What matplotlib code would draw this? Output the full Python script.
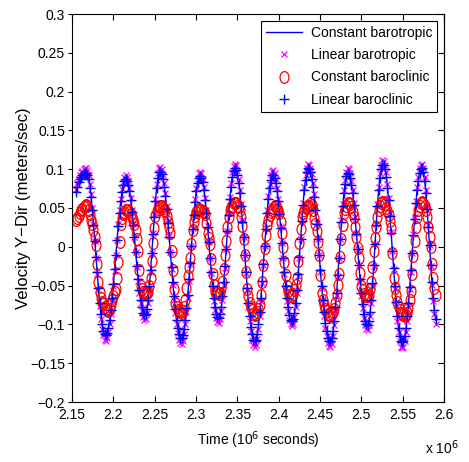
import matplotlib
matplotlib.use("Agg")
import matplotlib.pyplot as plt
import numpy as np
from matplotlib.path import Path

plt.rcParams['font.family'] = ['Liberation Sans', 'DejaVu Sans']

# time axis (units of 10^6 s), one sample every 1500 s
time_start = 2.155
time_step = 0.0015
n_samples = 291

# Constant barotropic (blue line)
const_bt = [0.072, 0.079, 0.085, 0.089, 0.092, 0.094, 0.096, 0.097, 0.097, 0.095,
            0.089, 0.078, 0.065, 0.048, 0.029, 0.008, -0.013, -0.034, -0.054, -0.073,
            -0.089, -0.102, -0.110, -0.115, -0.116, -0.113, -0.106, -0.096, -0.083, -0.067,
            -0.049, -0.030, -0.010, 0.009, 0.028, 0.045, 0.060, 0.072, 0.081, 0.087,
            0.089, 0.087, 0.082, 0.073, 0.061, 0.046, 0.029, 0.012, -0.007, -0.025,
            -0.042, -0.057, -0.070, -0.080, -0.087, -0.090, -0.089, -0.082, -0.069, -0.052,
            -0.031, -0.008, 0.017, 0.040, 0.060, 0.078, 0.091, 0.098, 0.099, 0.096,
            0.089, 0.079, 0.066, 0.050, 0.032, 0.013, -0.007, -0.027, -0.047, -0.065,
            -0.082, -0.096, -0.107, -0.115, -0.119, -0.120, -0.116, -0.108, -0.096, -0.081,
            -0.063, -0.042, -0.021, 0.001, 0.023, 0.042, 0.059, 0.073, 0.084, 0.091,
            0.093, 0.091, 0.085, 0.074, 0.061, 0.045, 0.026, 0.006, -0.014, -0.033,
            -0.051, -0.067, -0.079, -0.088, -0.093, -0.094, -0.089, -0.080, -0.065, -0.047,
            -0.026, -0.003, 0.020, 0.042, 0.062, 0.079, 0.092, 0.100, 0.103, 0.101,
            0.094, 0.084, 0.070, 0.053, 0.033, 0.012, -0.011, -0.033, -0.054, -0.074,
            -0.091, -0.105, -0.115, -0.122, -0.124, -0.122, -0.114, -0.102, -0.086, -0.067,
            -0.045, -0.022, 0.001, 0.023, 0.045, 0.063, 0.078, 0.088, 0.094, 0.095,
            0.091, 0.084, 0.073, 0.060, 0.043, 0.024, 0.005, -0.014, -0.034, -0.051,
            -0.067, -0.080, -0.090, -0.096, -0.098, -0.095, -0.087, -0.074, -0.057, -0.036,
            -0.013, 0.010, 0.034, 0.055, 0.074, 0.088, 0.098, 0.103, 0.102, 0.098,
            0.090, 0.079, 0.065, 0.049, 0.030, 0.010, -0.011, -0.031, -0.051, -0.069,
            -0.086, -0.100, -0.111, -0.119, -0.123, -0.124, -0.120, -0.111, -0.097, -0.080,
            -0.060, -0.037, -0.014, 0.010, 0.033, 0.053, 0.070, 0.083, 0.093, 0.097,
            0.096, 0.091, 0.082, 0.070, 0.055, 0.037, 0.017, -0.003, -0.023, -0.043,
            -0.061, -0.076, -0.088, -0.097, -0.102, -0.103, -0.097, -0.086, -0.069, -0.048,
            -0.024, 0.003, 0.029, 0.053, 0.074, 0.091, 0.102, 0.108, 0.107, 0.102,
            0.092, 0.078, 0.061, 0.041, 0.018, -0.005, -0.028, -0.052, -0.072, -0.091,
            -0.106, -0.117, -0.124, -0.126, -0.124, -0.117, -0.106, -0.091, -0.073, -0.053,
            -0.031, -0.008, 0.015, 0.037, 0.057, 0.074, 0.087, 0.097, 0.102, 0.103,
            0.098, 0.087, 0.070, 0.050, 0.027, 0.002, -0.024, -0.047, -0.067, -0.084,
            -0.095]

# Linear barotropic (magenta x)
lin_bt = [0.075, 0.082, 0.088, 0.093, 0.096, 0.098, 0.100, 0.101, 0.101, 0.099,
          0.093, 0.081, 0.068, 0.050, 0.030, 0.008, -0.014, -0.035, -0.056, -0.076,
          -0.093, -0.106, -0.114, -0.120, -0.121, -0.118, -0.110, -0.100, -0.086, -0.070,
          -0.051, -0.031, -0.010, 0.009, 0.029, 0.047, 0.062, 0.075, 0.084, 0.090,
          0.093, 0.090, 0.085, 0.076, 0.063, 0.048, 0.030, 0.012, -0.007, -0.026,
          -0.044, -0.059, -0.073, -0.083, -0.090, -0.094, -0.093, -0.085, -0.072, -0.054,
          -0.032, -0.008, 0.018, 0.042, 0.062, 0.081, 0.095, 0.102, 0.103, 0.100,
          0.093, 0.082, 0.069, 0.052, 0.033, 0.014, -0.007, -0.028, -0.049, -0.068,
          -0.085, -0.100, -0.111, -0.120, -0.124, -0.125, -0.121, -0.112, -0.100, -0.084,
          -0.066, -0.044, -0.022, 0.001, 0.024, 0.044, 0.061, 0.076, 0.087, 0.095,
          0.097, 0.095, 0.088, 0.077, 0.063, 0.047, 0.027, 0.006, -0.015, -0.034,
          -0.053, -0.070, -0.082, -0.092, -0.097, -0.098, -0.093, -0.083, -0.068, -0.049,
          -0.027, -0.003, 0.021, 0.044, 0.064, 0.082, 0.096, 0.104, 0.107, 0.105,
          0.098, 0.087, 0.073, 0.055, 0.034, 0.012, -0.011, -0.034, -0.056, -0.077,
          -0.095, -0.109, -0.120, -0.127, -0.129, -0.127, -0.119, -0.106, -0.089, -0.070,
          -0.047, -0.023, 0.001, 0.024, 0.047, 0.066, 0.081, 0.092, 0.098, 0.099,
          0.095, 0.087, 0.076, 0.062, 0.045, 0.025, 0.005, -0.015, -0.035, -0.053,
          -0.070, -0.083, -0.094, -0.100, -0.102, -0.099, -0.090, -0.077, -0.059, -0.037,
          -0.014, 0.010, 0.035, 0.057, 0.077, 0.092, 0.102, 0.107, 0.106, 0.102,
          0.094, 0.082, 0.068, 0.051, 0.031, 0.010, -0.011, -0.032, -0.053, -0.072,
          -0.089, -0.104, -0.115, -0.124, -0.128, -0.129, -0.125, -0.115, -0.101, -0.083,
          -0.062, -0.038, -0.015, 0.010, 0.034, 0.055, 0.073, 0.086, 0.097, 0.101,
          0.100, 0.095, 0.085, 0.073, 0.057, 0.038, 0.018, -0.003, -0.024, -0.045,
          -0.063, -0.079, -0.092, -0.101, -0.106, -0.107, -0.101, -0.089, -0.072, -0.050,
          -0.025, 0.003, 0.030, 0.055, 0.077, 0.095, 0.106, 0.112, 0.111, 0.106,
          0.096, 0.081, 0.063, 0.043, 0.019, -0.005, -0.029, -0.054, -0.075, -0.095,
          -0.110, -0.122, -0.129, -0.131, -0.129, -0.122, -0.110, -0.095, -0.076, -0.055,
          -0.032, -0.008, 0.016, 0.038, 0.059, 0.077, 0.090, 0.101, 0.106, 0.107,
          0.102, 0.090, 0.073, 0.052, 0.028, 0.002, -0.025, -0.049, -0.070, -0.087,
          -0.099]

# Constant baroclinic (red circles)
const_bc = [0.034, 0.037, 0.040, 0.044, 0.047, 0.049, 0.051, 0.053, 0.054, 0.052,
            0.047, 0.042, 0.035, 0.029, 0.022, 0.013, 0.002, -0.022, -0.046, -0.058,
            -0.066, -0.071, -0.074, -0.077, -0.080, -0.082, -0.083, -0.080, -0.074, -0.068,
            -0.063, -0.058, -0.054, -0.040, -0.020, 0.006, 0.030, 0.037, 0.042, 0.045,
            0.047, 0.048, 0.047, 0.045, 0.042, 0.038, 0.034, 0.029, 0.022, 0.010,
            -0.005, -0.030, -0.051, -0.055, -0.058, -0.059, -0.060, -0.060, -0.058, -0.050,
            -0.040, -0.018, 0.005, 0.024, 0.040, 0.046, 0.049, 0.051, 0.052, 0.052,
            0.050, 0.048, 0.046, 0.040, 0.032, 0.025, 0.018, -0.005, -0.030, -0.055,
            -0.073, -0.078, -0.082, -0.083, -0.084, -0.085, -0.083, -0.077, -0.068, -0.053,
            -0.037, -0.026, -0.015, 0.004, 0.022, 0.032, 0.040, 0.045, 0.048, 0.049,
            0.048, 0.047, 0.046, 0.045, 0.042, 0.031, 0.018, 0.011, 0.003, -0.016,
            -0.035, -0.049, -0.058, -0.060, -0.060, -0.061, -0.059, -0.053, -0.045, -0.028,
            -0.010, 0.008, 0.025, 0.038, 0.047, 0.051, 0.053, 0.056, 0.057, 0.056,
            0.053, 0.051, 0.047, 0.038, 0.027, 0.010, -0.010, -0.033, -0.054, -0.064,
            -0.072, -0.077, -0.082, -0.086, -0.088, -0.087, -0.084, -0.080, -0.075, -0.062,
            -0.045, -0.023, -0.001, 0.015, 0.028, 0.035, 0.041, 0.045, 0.048, 0.050,
            0.052, 0.052, 0.049, 0.047, 0.044, 0.032, 0.018, 0.000, -0.019, -0.036,
            -0.050, -0.057, -0.062, -0.064, -0.064, -0.061, -0.056, -0.049, -0.040, -0.018,
            0.005, 0.023, 0.038, 0.044, 0.048, 0.050, 0.051, 0.052, 0.053, 0.055,
            0.054, 0.047, 0.037, 0.029, 0.020, 0.006, -0.010, -0.036, -0.060, -0.068,
            -0.075, -0.080, -0.083, -0.086, -0.088, -0.089, -0.087, -0.084, -0.080, -0.072,
            -0.062, -0.049, -0.035, -0.013, 0.010, 0.028, 0.043, 0.049, 0.053, 0.056,
            0.057, 0.055, 0.051, 0.045, 0.038, 0.026, 0.012, -0.001, -0.015, -0.034,
            -0.050, -0.056, -0.061, -0.063, -0.064, -0.064, -0.062, -0.055, -0.045, -0.026,
            -0.005, 0.011, 0.026, 0.038, 0.047, 0.052, 0.056, 0.058, 0.058, 0.055,
            0.050, 0.046, 0.041, 0.033, 0.024, -0.008, -0.040, -0.053, -0.062, -0.071,
            -0.078, -0.082, -0.085, -0.087, -0.088, -0.089, -0.088, -0.085, -0.079, -0.069,
            -0.057, -0.035, -0.012, 0.008, 0.026, 0.039, 0.048, 0.053, 0.057, 0.058,
            0.057, 0.053, 0.048, 0.038, 0.025, 0.013, 0.000, -0.022, -0.040, -0.053,
            -0.062]

# Linear baroclinic (blue +)
lin_bc = [0.071, 0.077, 0.083, 0.087, 0.090, 0.092, 0.094, 0.095, 0.095, 0.093,
          0.087, 0.076, 0.064, 0.047, 0.028, 0.008, -0.013, -0.033, -0.053, -0.072,
          -0.087, -0.100, -0.108, -0.113, -0.114, -0.111, -0.104, -0.094, -0.081, -0.066,
          -0.048, -0.029, -0.010, 0.009, 0.027, 0.044, 0.059, 0.071, 0.079, 0.085,
          0.087, 0.085, 0.080, 0.072, 0.060, 0.045, 0.028, 0.012, -0.007, -0.025,
          -0.041, -0.056, -0.069, -0.078, -0.085, -0.088, -0.087, -0.080, -0.068, -0.051,
          -0.030, -0.008, 0.017, 0.039, 0.059, 0.076, 0.089, 0.096, 0.097, 0.094,
          0.087, 0.077, 0.065, 0.049, 0.031, 0.013, -0.007, -0.026, -0.046, -0.064,
          -0.080, -0.094, -0.105, -0.113, -0.117, -0.118, -0.114, -0.106, -0.094, -0.079,
          -0.062, -0.041, -0.021, 0.001, 0.023, 0.041, 0.058, 0.072, 0.082, 0.089,
          0.091, 0.089, 0.083, 0.073, 0.060, 0.044, 0.025, 0.006, -0.014, -0.032,
          -0.050, -0.066, -0.077, -0.086, -0.091, -0.092, -0.087, -0.078, -0.064, -0.046,
          -0.025, -0.003, 0.020, 0.041, 0.061, 0.077, 0.090, 0.098, 0.101, 0.099,
          0.092, 0.082, 0.069, 0.052, 0.032, 0.012, -0.011, -0.032, -0.053, -0.073,
          -0.089, -0.103, -0.113, -0.120, -0.122, -0.120, -0.112, -0.100, -0.084, -0.066,
          -0.044, -0.022, 0.001, 0.023, 0.044, 0.062, 0.076, 0.086, 0.092, 0.093,
          0.089, 0.082, 0.072, 0.059, 0.042, 0.024, 0.005, -0.014, -0.033, -0.050,
          -0.066, -0.078, -0.088, -0.094, -0.096, -0.093, -0.085, -0.073, -0.056, -0.035,
          -0.013, 0.010, 0.033, 0.054, 0.073, 0.086, 0.096, 0.101, 0.100, 0.096,
          0.088, 0.077, 0.064, 0.048, 0.029, 0.010, -0.011, -0.030, -0.050, -0.068,
          -0.084, -0.098, -0.109, -0.117, -0.121, -0.122, -0.118, -0.109, -0.095, -0.078,
          -0.059, -0.036, -0.014, 0.010, 0.032, 0.052, 0.069, 0.081, 0.091, 0.095,
          0.094, 0.089, 0.080, 0.069, 0.054, 0.036, 0.017, -0.003, -0.023, -0.042,
          -0.060, -0.074, -0.086, -0.095, -0.100, -0.101, -0.095, -0.084, -0.068, -0.047,
          -0.024, 0.003, 0.028, 0.052, 0.073, 0.089, 0.100, 0.106, 0.105, 0.100,
          0.090, 0.076, 0.060, 0.040, 0.018, -0.005, -0.027, -0.051, -0.071, -0.089,
          -0.104, -0.115, -0.122, -0.123, -0.122, -0.115, -0.104, -0.089, -0.072, -0.052,
          -0.030, -0.008, 0.015, 0.036, 0.056, 0.073, 0.085, 0.095, 0.100, 0.101,
          0.096, 0.085, 0.069, 0.049, 0.026, 0.002, -0.024, -0.046, -0.066, -0.082,
          -0.093]

x_ticks = [2.15, 2.2, 2.25, 2.3, 2.35, 2.4, 2.45, 2.5, 2.55, 2.6]
x_ticklabels = ['2.15', '2.2', '2.25', '2.3', '2.35', '2.4', '2.45', '2.5', '2.55', '2.6']
y_ticks = [-0.2, -0.15, -0.1, -0.05, 0, 0.05, 0.1, 0.15, 0.2, 0.25, 0.3]
y_ticklabels = ['\u22120.2', '\u22120.15', '\u22120.1', '\u22120.05', '0', '0.05', '0.1',
                '0.15', '0.2', '0.25', '0.3']

t = time_start + time_step * np.arange(n_samples)

# slightly squashed circle, like the original export
circ = Path.unit_circle()
oval = Path(circ.vertices * [0.75, 1.0], circ.codes)

fig = plt.figure(figsize=(4.69, 4.62), dpi=100)
ax = fig.add_axes([72 / 469, 1 - 402 / 462, 372 / 469, 388 / 462])

ax.plot(t, const_bt, '-', color=(0, 0, 1), lw=1.0, label='Constant barotropic')
ax.plot(t, lin_bt, 'x', color=(1, 0, 1), ms=4.5, mew=0.9, ls='none', label='Linear barotropic')
ax.plot(t, const_bc, marker=oval, color=(1, 0, 0), mfc='none', ms=8.5, mew=0.9, ls='none',
        label='Constant baroclinic')
ax.plot(t, lin_bc, '+', color=(0, 0, 1), ms=7.5, mew=1.0, ls='none', label='Linear baroclinic')

ax.set_xlim(2.15, 2.6)
ax.set_ylim(-0.2, 0.3)
ax.set_xticks(x_ticks, x_ticklabels)
ax.set_yticks(y_ticks, y_ticklabels)
ax.tick_params(axis='x', direction='in', top=True, length=4, labelsize=10, pad=4)
ax.tick_params(axis='y', direction='out', length=3, labelsize=10, pad=2)
sec = ax.secondary_yaxis('right')
sec.set_yticks(y_ticks)
sec.tick_params(direction='in', length=4, labelright=False)
for s in list(ax.spines.values()) + list(sec.spines.values()):
    s.set_linewidth(0.8)

ax.set_xlabel('Time (10$^6$ seconds)', fontsize=10, labelpad=6)
ax.set_ylabel('Velocity Y\u2212Dir (meters/sec)', fontsize=12)
ax.yaxis.set_label_coords(-0.11, 0.5)
fig.text(425 / 469, 1 - 448 / 462, 'x 10$^6$', fontsize=10, va='center', ha='left')

leg = ax.legend(loc='upper right', fontsize=10, frameon=True, fancybox=False,
                edgecolor='black', framealpha=1, labelspacing=0.6, handlelength=2.6,
                handletextpad=0.6, borderpad=0.35, borderaxespad=0.5)
leg.get_frame().set_linewidth(0.8)

plt.savefig('out.png', dpi=100)
